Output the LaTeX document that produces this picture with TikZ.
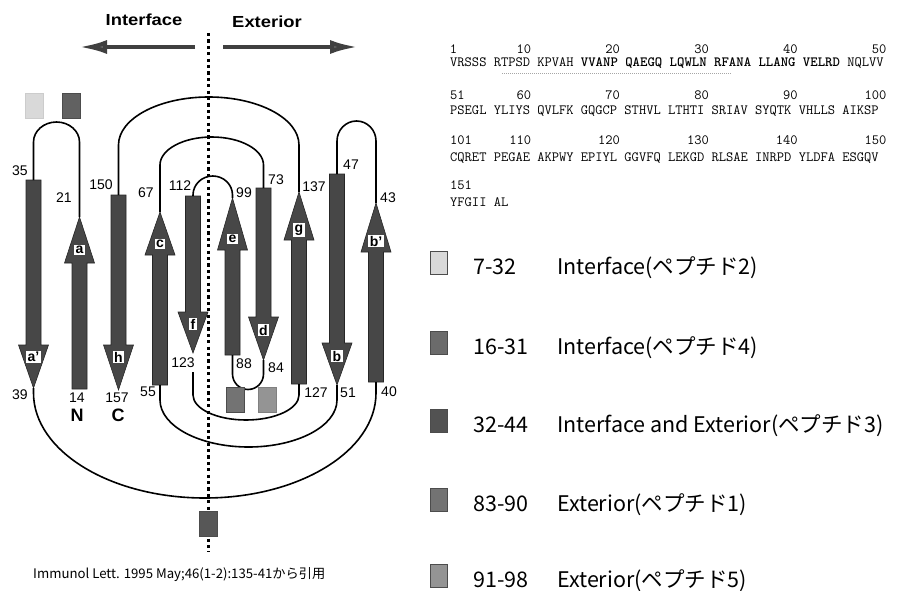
\documentclass[tikz,border=0pt]{standalone}
\usepackage{fontspec}
\setmainfont{Liberation Sans}
\newfontfamily\jpfont{Noto Sans CJK JP}
\newfontfamily\widefont[FakeStretch=1.15]{Liberation Sans}
\usetikzlibrary{arrows.meta}

% one beta strand: name, x, tail y, head base y, tip y, tag y, tag
\newcommand\bstrand[7]{%
  \filldraw[strand] (#2-7.5,#3) -- (#2-7.5,#4) -- (#2-15,#4) -- (#2,#5)
    -- (#2+15,#4) -- (#2+7.5,#4) -- (#2+7.5,#3) -- cycle;
  \coordinate (#1-tail) at (#2,#3);
  \coordinate (#1-tip) at (#2,#5);
  \node[tag] (#1) at (#2,#6) {#7};}

\begin{document}
\begin{tikzpicture}[x=1pt, y=-1pt,
    strand/.style={fill=black!72, draw=black!85, line width=0.6pt},
    tag/.style={fill=white, inner sep=1.3pt, font=\bfseries\fontsize{14}{14}\selectfont},
    num/.style={font=\fontsize{14}{14}\selectfont, inner sep=0pt},
    link/.style={line width=1.6pt},
    patch/.style={draw=black!70, line width=0.4pt, minimum width=18pt, minimum height=25pt, inner sep=0pt},
    side/.style={line width=4pt, draw=black!75, -{Latex[length=28pt,width=14pt,fill=black!60]}},
    seqnum/.style={font=\ttfamily\fontsize{14.1}{14.1}\selectfont, inner sep=0pt, text height=8.5pt, text depth=0pt, anchor=base east},
    seqrow/.style={font=\ttfamily\fontsize{14.1}{14.1}\selectfont, inner sep=0pt, text height=8.5pt, text depth=0pt, anchor=base west},
    key/.style={font=\jpfont\fontsize{21.5}{21.5}\selectfont, inner sep=0pt, anchor=base west}]
  \useasboundingbox (0,0) rectangle (915,591);

  % side headings and arrows
  \node[font=\widefont\bfseries\fontsize{16}{16}\selectfont] (iface) at (144,20) {Interface};
  \node[font=\widefont\bfseries\fontsize{16}{16}\selectfont] (ext) at (267,22) {Exterior};
  \coordinate (mid-l) at (195,47);
  \coordinate (mid-r) at (223,47);
  \coordinate (end-l) at (79,47);
  \coordinate (end-r) at (358,47);
  \draw[side] (mid-l) -- (end-l);
  \draw[side] (mid-r) -- (end-r);

  % membrane line
  \coordinate (cut-top) at (208,33);
  \coordinate (cut-bot) at (208,552);
  \draw[line width=3pt, dash pattern=on 3.2pt off 3.2pt] (cut-top) -- (cut-bot);

  % strands
  \bstrand{ap}{33.5}{180}{345}{388}{357}{a'}
  \bstrand{a}{79.5}{389}{263}{217}{250}{a}
  \bstrand{h}{118.5}{195}{345}{390}{357}{h}
  \bstrand{c}{160}{385}{255}{212}{244}{c}
  \bstrand{f}{193}{196}{312}{353}{324}{f}
  \bstrand{e}{232.5}{355}{250}{198}{239}{e}
  \bstrand{d}{263.5}{188}{317}{360}{330}{d}
  \bstrand{g}{299}{384}{240}{192}{230}{g}
  \bstrand{b}{337}{174}{343}{385}{356}{b}
  \bstrand{bp}{376}{382}{252}{203}{241}{b'}

  % connections
  \draw[link] (a-tip) -- (79.5,142) arc[start angle=0, end angle=180, x radius=23pt, y radius=20pt] -- (ap-tail);
  \draw[link] (bp-tip) -- (376,141) arc[start angle=0, end angle=180, x radius=19.5pt, y radius=20pt] -- (b-tail);
  \draw[link] (g-tip) -- (299,145) arc[start angle=0, end angle=180, x radius=90.25pt, y radius=48pt] -- (h-tail);
  \draw[link] (c-tip) -- (160,165) arc[start angle=180, end angle=0, x radius=51.75pt, y radius=28pt] -- (d-tail);
  \draw[link] (e-tip) -- (232.5,195) arc[start angle=0, end angle=180, x radius=19.75pt, y radius=19pt] -- (f-tail);
  \draw[link] (e-tail) -- (232.5,374) arc[start angle=180, end angle=360, x radius=15.5pt, y radius=15.5pt] -- (d-tip);
  \coordinate (f-end) at (193,372);
  \draw[link] (f-end) -- (193,395) arc[start angle=180, end angle=360, x radius=53pt, y radius=25pt] -- (g-tail);
  \draw[link] (b-tip) -- (337,400) arc[start angle=0, end angle=-180, x radius=88.5pt, y radius=47pt] -- (c-tail);
  \draw[link] (ap-tip) -- (33.5,393) arc[start angle=180, end angle=360, x radius=171.25pt, y radius=105pt] -- (bp-tail);

  % residue numbers
  \foreach \t/\px/\py in {35/20/171, 21/64/198, 39/20/395, 14/77/398, 150/101/185, 157/117/398,
      67/146/193, 55/148/392, 112/180/186, 123/183/363, 99/244/193, 88/244/364, 73/276/180,
      84/276/368, 137/314/187, 127/316/393, 47/351/165, 51/348/393, 43/388/198, 40/389/392}
    \node[num] (n\t) at (\px,\py) {\t};
  \node[font=\bfseries\fontsize{18}{18}\selectfont, inner sep=0pt] (nterm) at (77,415) {N};
  \node[font=\bfseries\fontsize{18}{18}\selectfont, inner sep=0pt] (cterm) at (118,415) {C};

  % peptide patches on the drawing
  \node[patch, fill=black!15, draw=black!20] (p2) at (34.5,105.5) {};
  \node[patch, fill=black!62] (p4) at (71,105.5) {};
  \node[patch, fill=black!55] (p1) at (235,400) {};
  \node[patch, fill=black!42, draw=black!50] (p5) at (267.5,400) {};
  \node[patch, fill=black!66] (p3) at (208,523.5) {};

  \node[font=\jpfont\fontsize{13.2}{13.2}\selectfont, inner sep=0pt, anchor=base west] (cite) at (33,578)
    {Immunol Lett. 1995 May;46(1-2):135-41から引用};

  % sequence
  \foreach \k/\c in {1/0, 10/10, 20/22, 30/34, 40/46, 50/58}
    \node[seqnum] (r1-\k) at ({450+(\c+1)*7.4},54) {\k};
  \node[seqrow] (s1) at (450,67) {VRSSS RTPSD KPVAH \textbf{VVANP QAEGQ LQWLN RFANA LLANG VELRD} NQLVV};
  \draw[black!35, line width=0.8pt, dash pattern=on 1pt off 1pt] (502,73) -- (731,73);
  \foreach \k/\c in {51/1, 60/10, 70/22, 80/34, 90/46, 100/58}
    \node[seqnum] (r2-\k) at ({450+(\c+1)*7.4},100) {\k};
  \node[seqrow] (s2) at (450,115) {PSEGL YLIYS QVLFK GQGCP STHVL LTHTI SRIAV SYQTK VHLLS AIKSP};
  \foreach \k/\c in {101/2, 110/10, 120/22, 130/34, 140/46, 150/58}
    \node[seqnum] (r3-\k) at ({450+(\c+1)*7.4},145) {\k};
  \node[seqrow] (s3) at (450,161) {CQRET PEGAE AKPWY EPIYL GGVFQ LEKGD RLSAE INRPD YLDFA ESGQV};
  \node[seqrow] (r4-151) at (450,189) {151};
  \node[seqrow] (s4) at (450,206) {YFGII AL};

  % legend
  \foreach \i/\y/\shade/\span/\what in {
      1/263/15/7-32/Interface(ペプチド2),
      2/343/58/16-31/Interface(ペプチド4),
      3/421/68/32-44/Interface and Exterior(ペプチド3),
      4/500/55/83-90/Exterior(ペプチド1),
      5/576/42/91-98/Exterior(ペプチド5)} {
    \node[patch, minimum height=23pt, minimum width=17pt, fill=black!\shade] (k\i) at (438.5,\y) {};
    \node[key] (kr\i) at (473,\y+11) {\span};
    \node[key] (kt\i) at (557,\y+11) {\what};
  }
\end{tikzpicture}
\end{document}
